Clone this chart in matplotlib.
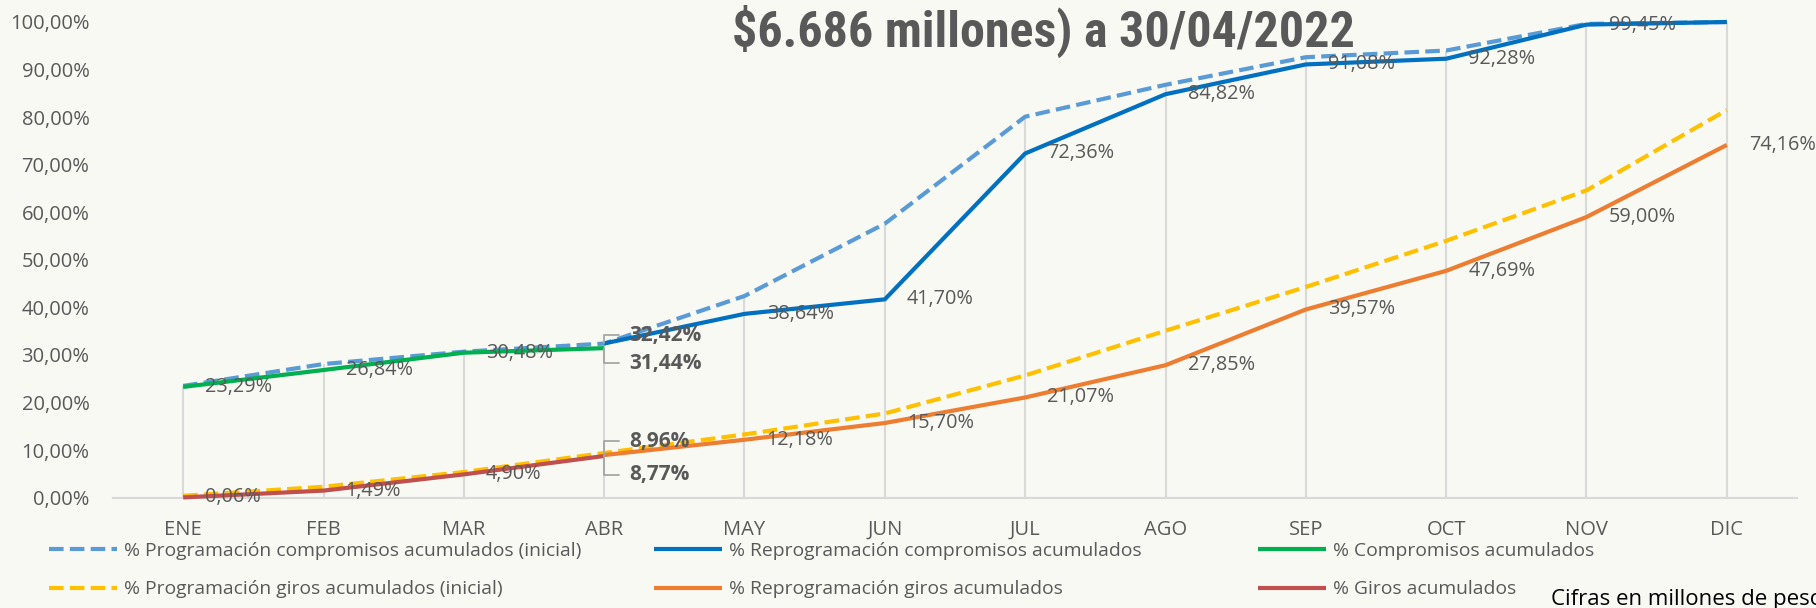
import numpy as np
import matplotlib
matplotlib.use('Agg')
from matplotlib import pyplot as plt
from matplotlib import font_manager as fm

meses = ['ENE', 'FEB', 'MAR', 'ABR', 'MAY', 'JUN', 'JUL', 'AGO', 'SEP', 'OCT', 'NOV', 'DIC']
nan = np.nan
# valores en %
prog_comp = [23.5, 28.1, 30.7, 32.4, 42.4, 57.6, 80.1, 86.8, 92.6, 94.0, 99.6, 100.0]
reprog_comp = [nan, nan, nan, 32.42, 38.64, 41.70, 72.36, 84.82, 91.08, 92.28, 99.45, 100.0]
comp = [23.29, 26.84, 30.48, 31.44, nan, nan, nan, nan, nan, nan, nan, nan]
prog_giros = [0.4, 2.3, 5.4, 9.4, 13.3, 17.7, 25.7, 35.1, 44.3, 54.0, 64.6, 81.5]
reprog_giros = [nan, nan, nan, 8.96, 12.18, 15.70, 21.07, 27.85, 39.57, 47.69, 59.00, 74.16]
giros = [0.06, 1.49, 4.90, 8.77, nan, nan, nan, nan, nan, nan, nan, nan]

nombres = ['% Programación compromisos acumulados (inicial)',
           '% Reprogramación compromisos acumulados',
           '% Compromisos acumulados',
           '% Programación giros acumulados (inicial)',
           '% Reprogramación giros acumulados',
           '% Giros acumulados']
titulo = '$6.686 millones) a 30/04/2022'
nota = 'Cifras en millones de pesos'

gris = '#595959'
fondo = '#F9F9F4'
fuentes = {f.name for f in fm.fontManager.ttflist}
fnt = 'Open Sans' if 'Open Sans' in fuentes else 'DejaVu Sans'
fnt_tit = next((n for n in ['Liberation Sans Narrow', 'Roboto Condensed'] if n in fuentes), 'Liberation Sans')
plt.rcParams['font.family'] = [fnt, 'DejaVu Sans']

def fmt(v):
    return f'{v:.2f}'.replace('.', ',') + '%'

fig = plt.figure(figsize=(18.16, 6.08), dpi=100, facecolor=fondo)
ax = fig.add_axes([113/1816, 1-497.7/608, 1684/1816, 475.7/608])
ax.set_facecolor(fondo)
x = np.arange(len(meses))

# lineas de caida
tope = np.nanmax(np.vstack([prog_comp, reprog_comp, comp, prog_giros, reprog_giros, giros]), axis=0)
ax.vlines(x, 0, tope, color='#D9D9D9', lw=1.5, zorder=1)

estilos = [
    (prog_comp, '#5B9BD5', (0, (3.5, 1.5))),
    (reprog_comp, '#0070C0', '-'),
    (comp, '#00B050', '-'),
    (prog_giros, '#FFC000', (0, (3.5, 1.5))),
    (reprog_giros, '#ED7D31', '-'),
    (giros, '#C0504D', '-'),
]
lineas = []
for i, (serie, col, ls) in enumerate(estilos):
    l, = ax.plot(x, serie, color=col, lw=3.0, ls=ls, zorder=3 + i, clip_on=False,
                 solid_capstyle='butt', dash_capstyle='butt', label=nombres[i])
    lineas.append(l)

# etiquetas a la derecha
for serie in [reprog_comp, comp, reprog_giros, giros]:
    for xi, v in zip(x, serie):
        if np.isnan(v) or xi == 3 or xi == 11:
            continue
        ax.annotate(fmt(v), (xi, v), xytext=(16, 0), textcoords='offset points',
                    ha='left', va='center', fontsize=14.3, color=gris, zorder=10)
ax.annotate(fmt(reprog_giros[11]), (11, reprog_giros[11]), xytext=(16, 0), textcoords='offset points',
            ha='left', va='center', fontsize=14.3, color=gris, zorder=10)

# etiquetas de abril con lineas guia
for serie, dy in [(reprog_comp, 6), (comp, -11), (reprog_giros, 10), (giros, -13.5)]:
    v = serie[3]
    ax.annotate(fmt(v), (3, v), xytext=(18, dy), textcoords='offset points',
                ha='left', va='center', fontsize=15, fontweight='bold', color=gris, zorder=10,
                arrowprops=dict(arrowstyle='-', color='#A6A6A6', lw=1.3, shrinkA=5, shrinkB=0,
                                relpos=(0, 0.5),
                                connectionstyle='angle,angleA=180,angleB=90,rad=0'))

ax.set_xlim(-0.5, 11.5)
ax.set_ylim(0, 100)
ax.set_yticks(np.arange(0, 101, 10))
ax.set_yticklabels([fmt(v) for v in np.arange(0, 101, 10)])
ax.set_xticks(x)
ax.set_xticklabels(meses)
ax.tick_params(axis='both', length=0, labelsize=14.5, labelcolor=gris)
ax.tick_params(axis='y', pad=17)
ax.tick_params(axis='x', pad=16)
for s in ['top', 'right', 'left']:
    ax.spines[s].set_visible(False)
ax.spines['bottom'].set_color('#D9D9D9')
ax.spines['bottom'].set_linewidth(1.6)

fig.text(1043/1816, 1-47/608, titulo, ha='center', va='baseline', fontsize=36,
         fontweight='bold', color=gris, family=[fnt_tit, 'DejaVu Sans'])

# leyenda en tres columnas
xs_col = [49/1816, 654/1816, 1258/1816]
for c in range(3):
    leg = fig.legend([lineas[c], lineas[c + 3]], [nombres[c], nombres[c + 3]],
                     loc='upper left', bbox_to_anchor=(xs_col[c], 1-542/608),
                     frameon=False, fontsize=13.9, handlelength=3.5, handletextpad=0.4,
                     labelspacing=1.05, borderaxespad=0, borderpad=0)
    for t in leg.get_texts():
        t.set_color(gris)

fig.text(1551/1816, 1-599/608, nota, ha='left', va='center', fontsize=16, color='black')

fig.savefig('out.png', dpi=100, facecolor=fondo)
